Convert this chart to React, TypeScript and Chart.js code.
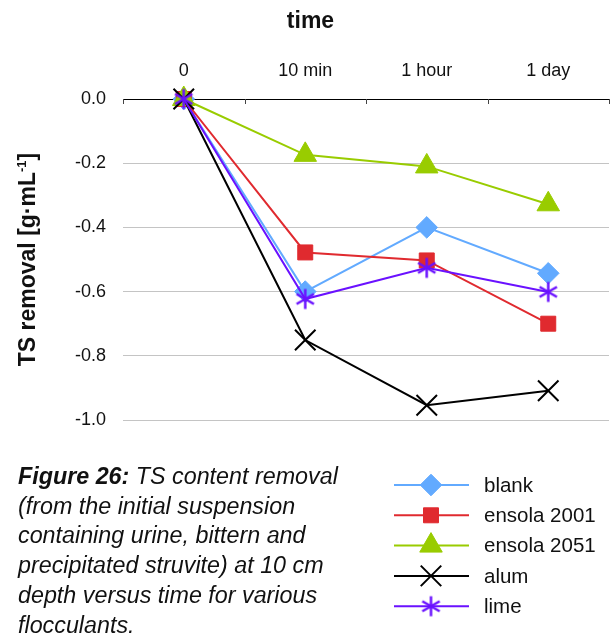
import React, { useEffect, useRef } from 'react';
import { Chart, registerables } from 'chart.js';
import { drawPoint } from 'chart.js/helpers';

Chart.register(...registerables);

const categories = ['0', '10 min', '1 hour', '1 day'];
const blank = [0, -0.6, -0.4, -0.543];
const ensola2001 = [0, -0.478, -0.503, -0.7];
const ensola2051 = [0, -0.174, -0.21, -0.328];
const alum = [0, -0.751, -0.954, -0.909];
const lime = [0, -0.623, -0.526, -0.601];

const seriesLabels = ['blank', 'ensola 2001', 'ensola 2051', 'alum', 'lime'];
const seriesValues = [blank, ensola2001, ensola2051, alum, lime];
const seriesColors = ['#62aaff', '#e02a2f', '#99cc00', '#000000', '#6a11ff'];
const seriesStyles = ['rectRot', 'rect', 'triangle', 'crossRot', 'asterisk'];
const seriesRadius = [10.8, 10.6, 13, 14.5, 10];
const seriesPointBorder = [1, 1, 1, 2, 2.5];
const seriesOrder = [4, 3, 2, 1, 0];

const yMin = -1.0;
const yMax = 0.0;
const yStep = 0.2;

const chartTitle = 'time';
const yTitleMain = 'TS removal [g·mL';
const yTitleSup = '-1';
const yTitleEnd = ']';

const FONT = '"Liberation Sans", Arial, Helvetica, sans-serif';

function makeAsterisk(color: string, r: number, lw: number) {
  const size = Math.ceil(2 * r + lw * 2 + 2);
  const c = document.createElement('canvas');
  c.width = size;
  c.height = size;
  const ctx = c.getContext('2d')!;
  ctx.strokeStyle = color;
  ctx.lineWidth = lw;
  ctx.lineCap = 'butt';
  const cx = size / 2;
  const cy = size / 2;
  [90, 30, 150].forEach((deg) => {
    const a = (deg * Math.PI) / 180;
    ctx.beginPath();
    ctx.moveTo(cx - Math.cos(a) * r, cy - Math.sin(a) * r);
    ctx.lineTo(cx + Math.cos(a) * r, cy + Math.sin(a) * r);
    ctx.stroke();
  });
  return c;
}

const innerTicksPlugin = {
  id: 'innerTicks',
  afterDraw(chart: any) {
    const { ctx, chartArea } = chart;
    const n = chart.data.labels.length;
    const w = (chartArea.right - chartArea.left) / n;
    ctx.save();
    ctx.strokeStyle = '#444';
    ctx.lineWidth = 1;
    for (let i = 0; i <= n; i++) {
      const x = Math.round(chartArea.left + i * w) + 0.5;
      ctx.beginPath();
      ctx.moveTo(x, chartArea.top);
      ctx.lineTo(x, chartArea.top + 5);
      ctx.stroke();
    }
    ctx.restore();
  },
};

const yTitlePlugin = {
  id: 'yTitle',
  afterDraw(chart: any) {
    const { ctx, chartArea } = chart;
    ctx.save();
    ctx.translate(27, (chartArea.top + chartArea.bottom) / 2);
    ctx.rotate(-Math.PI / 2);
    ctx.fillStyle = '#111';
    ctx.textBaseline = 'alphabetic';
    ctx.textAlign = 'left';
    const mainFont = `bold 23px ${FONT}`;
    const supFont = `bold 13px ${FONT}`;
    ctx.font = mainFont;
    const w1 = ctx.measureText(yTitleMain).width;
    const w3 = ctx.measureText(yTitleEnd).width;
    ctx.font = supFont;
    const w2 = ctx.measureText(yTitleSup).width;
    const start = -(w1 + w2 + w3) / 2;
    const base = 8;
    ctx.font = mainFont;
    ctx.fillText(yTitleMain, start, base);
    ctx.font = supFont;
    ctx.fillText(yTitleSup, start + w1, base - 9);
    ctx.font = mainFont;
    ctx.fillText(yTitleEnd, start + w1 + w2, base);
    ctx.restore();
  },
};

const legendPlugin = {
  id: 'customLegend',
  afterDraw(chart: any) {
    const { ctx } = chart;
    ctx.save();
    chart.data.datasets.forEach((ds: any, i: number) => {
      const y = 485 + 30.3 * i;
      ctx.strokeStyle = ds.borderColor;
      ctx.lineWidth = 2;
      ctx.beginPath();
      ctx.moveTo(394, y);
      ctx.lineTo(469, y);
      ctx.stroke();
      ctx.fillStyle = ds.pointBackgroundColor;
      ctx.strokeStyle = ds.borderColor;
      ctx.lineWidth = ds.pointBorderWidth;
      drawPoint(ctx, { pointStyle: ds.pointStyle, radius: ds.pointRadius, rotation: 0, borderWidth: ds.pointBorderWidth } as any, 431, y);
      ctx.fillStyle = '#111';
      ctx.font = `20.5px ${FONT}`;
      ctx.textBaseline = 'middle';
      ctx.textAlign = 'left';
      ctx.fillText(ds.label, 484, y + 1);
    });
    ctx.restore();
  },
};

function ChartView() {
  const ref = useRef<HTMLCanvasElement | null>(null);
  useEffect(() => {
    if (!ref.current) return;
    Chart.defaults.font.family = FONT;
    const styles = seriesStyles.map((s, i) =>
      s === 'asterisk' ? makeAsterisk(seriesColors[i], seriesRadius[i], seriesPointBorder[i]) : s
    );
    const chart = new Chart(ref.current, {
      type: 'line',
      data: {
        labels: categories,
        datasets: seriesLabels.map((label, i) => ({
          label,
          data: seriesValues[i],
          borderColor: seriesColors[i],
          backgroundColor: seriesColors[i],
          pointBackgroundColor: seriesColors[i],
          pointBorderColor: seriesColors[i],
          pointStyle: styles[i] as any,
          pointRadius: seriesRadius[i],
          pointBorderWidth: seriesPointBorder[i],
          borderWidth: 2,
          tension: 0,
          clip: false as any,
          order: seriesOrder[i],
        })),
      },
      options: {
        animation: false,
        responsive: false,
        maintainAspectRatio: false,
        layout: { autoPadding: false, padding: { left: 12, top: 0, right: 2, bottom: 215 } },
        plugins: {
          legend: { display: false },
          tooltip: { enabled: false },
          title: {
            display: true,
            text: chartTitle,
            color: '#111',
            font: { size: 23, weight: 'bold' },
            padding: { top: 8, bottom: 0 },
          },
        },
        scales: {
          x: {
            type: 'category',
            position: 'top',
            offset: true,
            grid: { display: true, drawOnChartArea: false, drawTicks: false },
            border: { display: true, color: '#000', width: 1 },
            ticks: { color: '#111', font: { size: 18 }, padding: 17, maxRotation: 0 },
            title: { display: false },
            afterFit: (scale: any) => {
              scale.height = 63.4;
              scale.paddingLeft = 0;
              scale.paddingRight = 0;
            },
          },
          y: {
            type: 'linear',
            min: yMin,
            max: yMax,
            grid: { color: '#c4c4c4', lineWidth: 1, drawTicks: false },
            border: { display: false },
            ticks: {
              stepSize: yStep,
              color: '#111',
              font: { size: 18 },
              padding: 17,
              callback: (v: any) => Number(v).toFixed(1),
            },
            title: { display: false },
            afterFit: (scale: any) => {
              scale.width = 111;
              scale.paddingTop = 0;
              scale.paddingBottom = 0;
            },
          },
        },
      },
      plugins: [innerTicksPlugin, yTitlePlugin, legendPlugin],
    });
    return () => chart.destroy();
  }, []);
  return <canvas ref={ref} width={611} height={635} style={{ position: 'absolute', left: 0, top: 0 }} />;
}

export default function App() {
  return (
    <div style={{ position: 'absolute', left: 0, top: 0, width: 611, height: 635, background: '#fff' }}>
      <ChartView />
      <div
        style={{
          position: 'absolute',
          left: 18,
          top: 462,
          fontFamily: FONT,
          fontSize: 23.3,
          lineHeight: '29.7px',
          fontStyle: 'italic',
          color: '#111',
          whiteSpace: 'nowrap',
        }}
      >
        <b>Figure 26:</b> TS content removal<br />
        (from the initial suspension<br />
        containing urine, bittern and<br />
        precipitated struvite) at 10 cm<br />
        depth versus time for various<br />
        flocculants.
      </div>
    </div>
  );
}
